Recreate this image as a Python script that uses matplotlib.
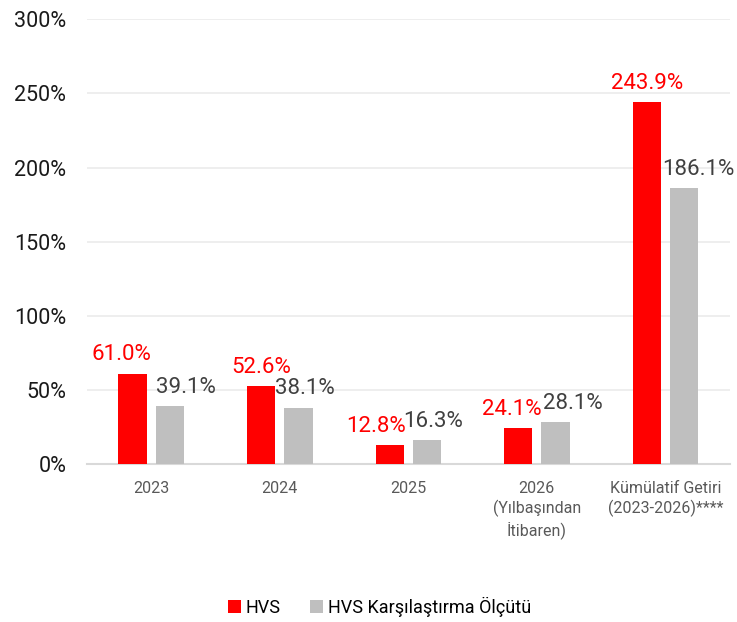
import matplotlib
matplotlib.use("Agg")
import matplotlib.pyplot as plt
import numpy as np

categories = ["2023", "2024", "2025", "2026\n(Yılbaşından\nİtibaren)", "Kümülatif Getiri\n(2023-2026)****"]
series_names = ["HVS", "HVS Karşılaştırma Ölçütü"]
hvs = [61.0, 52.6, 12.8, 24.1, 243.9]
bench = [39.1, 38.1, 16.3, 28.1, 186.1]
yticks = [0, 50, 100, 150, 200, 250, 300]

RED = "#ff0000"
GRAY = "#bfbfbf"

plt.rcParams['font.family'] = ['Roboto', 'DejaVu Sans']

fig = plt.figure(figsize=(7.37, 6.22), dpi=100)
ax = fig.add_axes([0.118, 0.254, 0.872, 0.715])

x = np.arange(len(categories))
w = 0.22
off = 0.145
b1 = ax.bar(x - off, hvs, w, color=RED, label=series_names[0], zorder=3)
b2 = ax.bar(x + off, bench, w, color=GRAY, label=series_names[1], zorder=3)

# label x offsets (pixels) to mimic manual placement in the reference
red_dx = [-11, 0, -14, -6, 0]
gray_dx = [16, 6, 6, 17, 14]
px = 72 / 100
for i, v in enumerate(hvs):
    ax.annotate(f"{v:.1f}%", (x[i] - off, v), xytext=(red_dx[i] * px, 6), textcoords="offset points",
                ha="center", va="bottom", fontsize=16, color=RED)
for i, v in enumerate(bench):
    ax.annotate(f"{v:.1f}%", (x[i] + off, v), xytext=(gray_dx[i] * px, 6), textcoords="offset points",
                ha="center", va="bottom", fontsize=16, color="#404040")

ax.set_xlim(-0.5, len(categories) - 0.5)
ax.set_ylim(0, 300)
ax.set_yticks(yticks)
ax.set_yticklabels([f"{t}%" for t in yticks], fontsize=15.5, color="#1a1a1a")
ax.set_xticks(x)
ax.set_xticklabels(categories, fontsize=11.5, color="#595959", linespacing=1.3)
ax.tick_params(axis="both", length=0)
ax.tick_params(axis="x", pad=12)
ax.tick_params(axis="y", pad=15)
ax.grid(axis="y", color="#ebebeb", linewidth=1.2, zorder=0)
for s in ["top", "right", "left"]:
    ax.spines[s].set_visible(False)
ax.spines["bottom"].set_color("#d9d9d9")
ax.spines["bottom"].set_linewidth(1.5)

fig.legend(handles=[b1, b2], labels=series_names, loc="center", bbox_to_anchor=(0.515, 0.024),
           ncol=2, frameon=False, fontsize=13, handlelength=0.7, handleheight=0.7,
           handletextpad=0.3, columnspacing=1.6)

fig.savefig("out.png", dpi=100)
